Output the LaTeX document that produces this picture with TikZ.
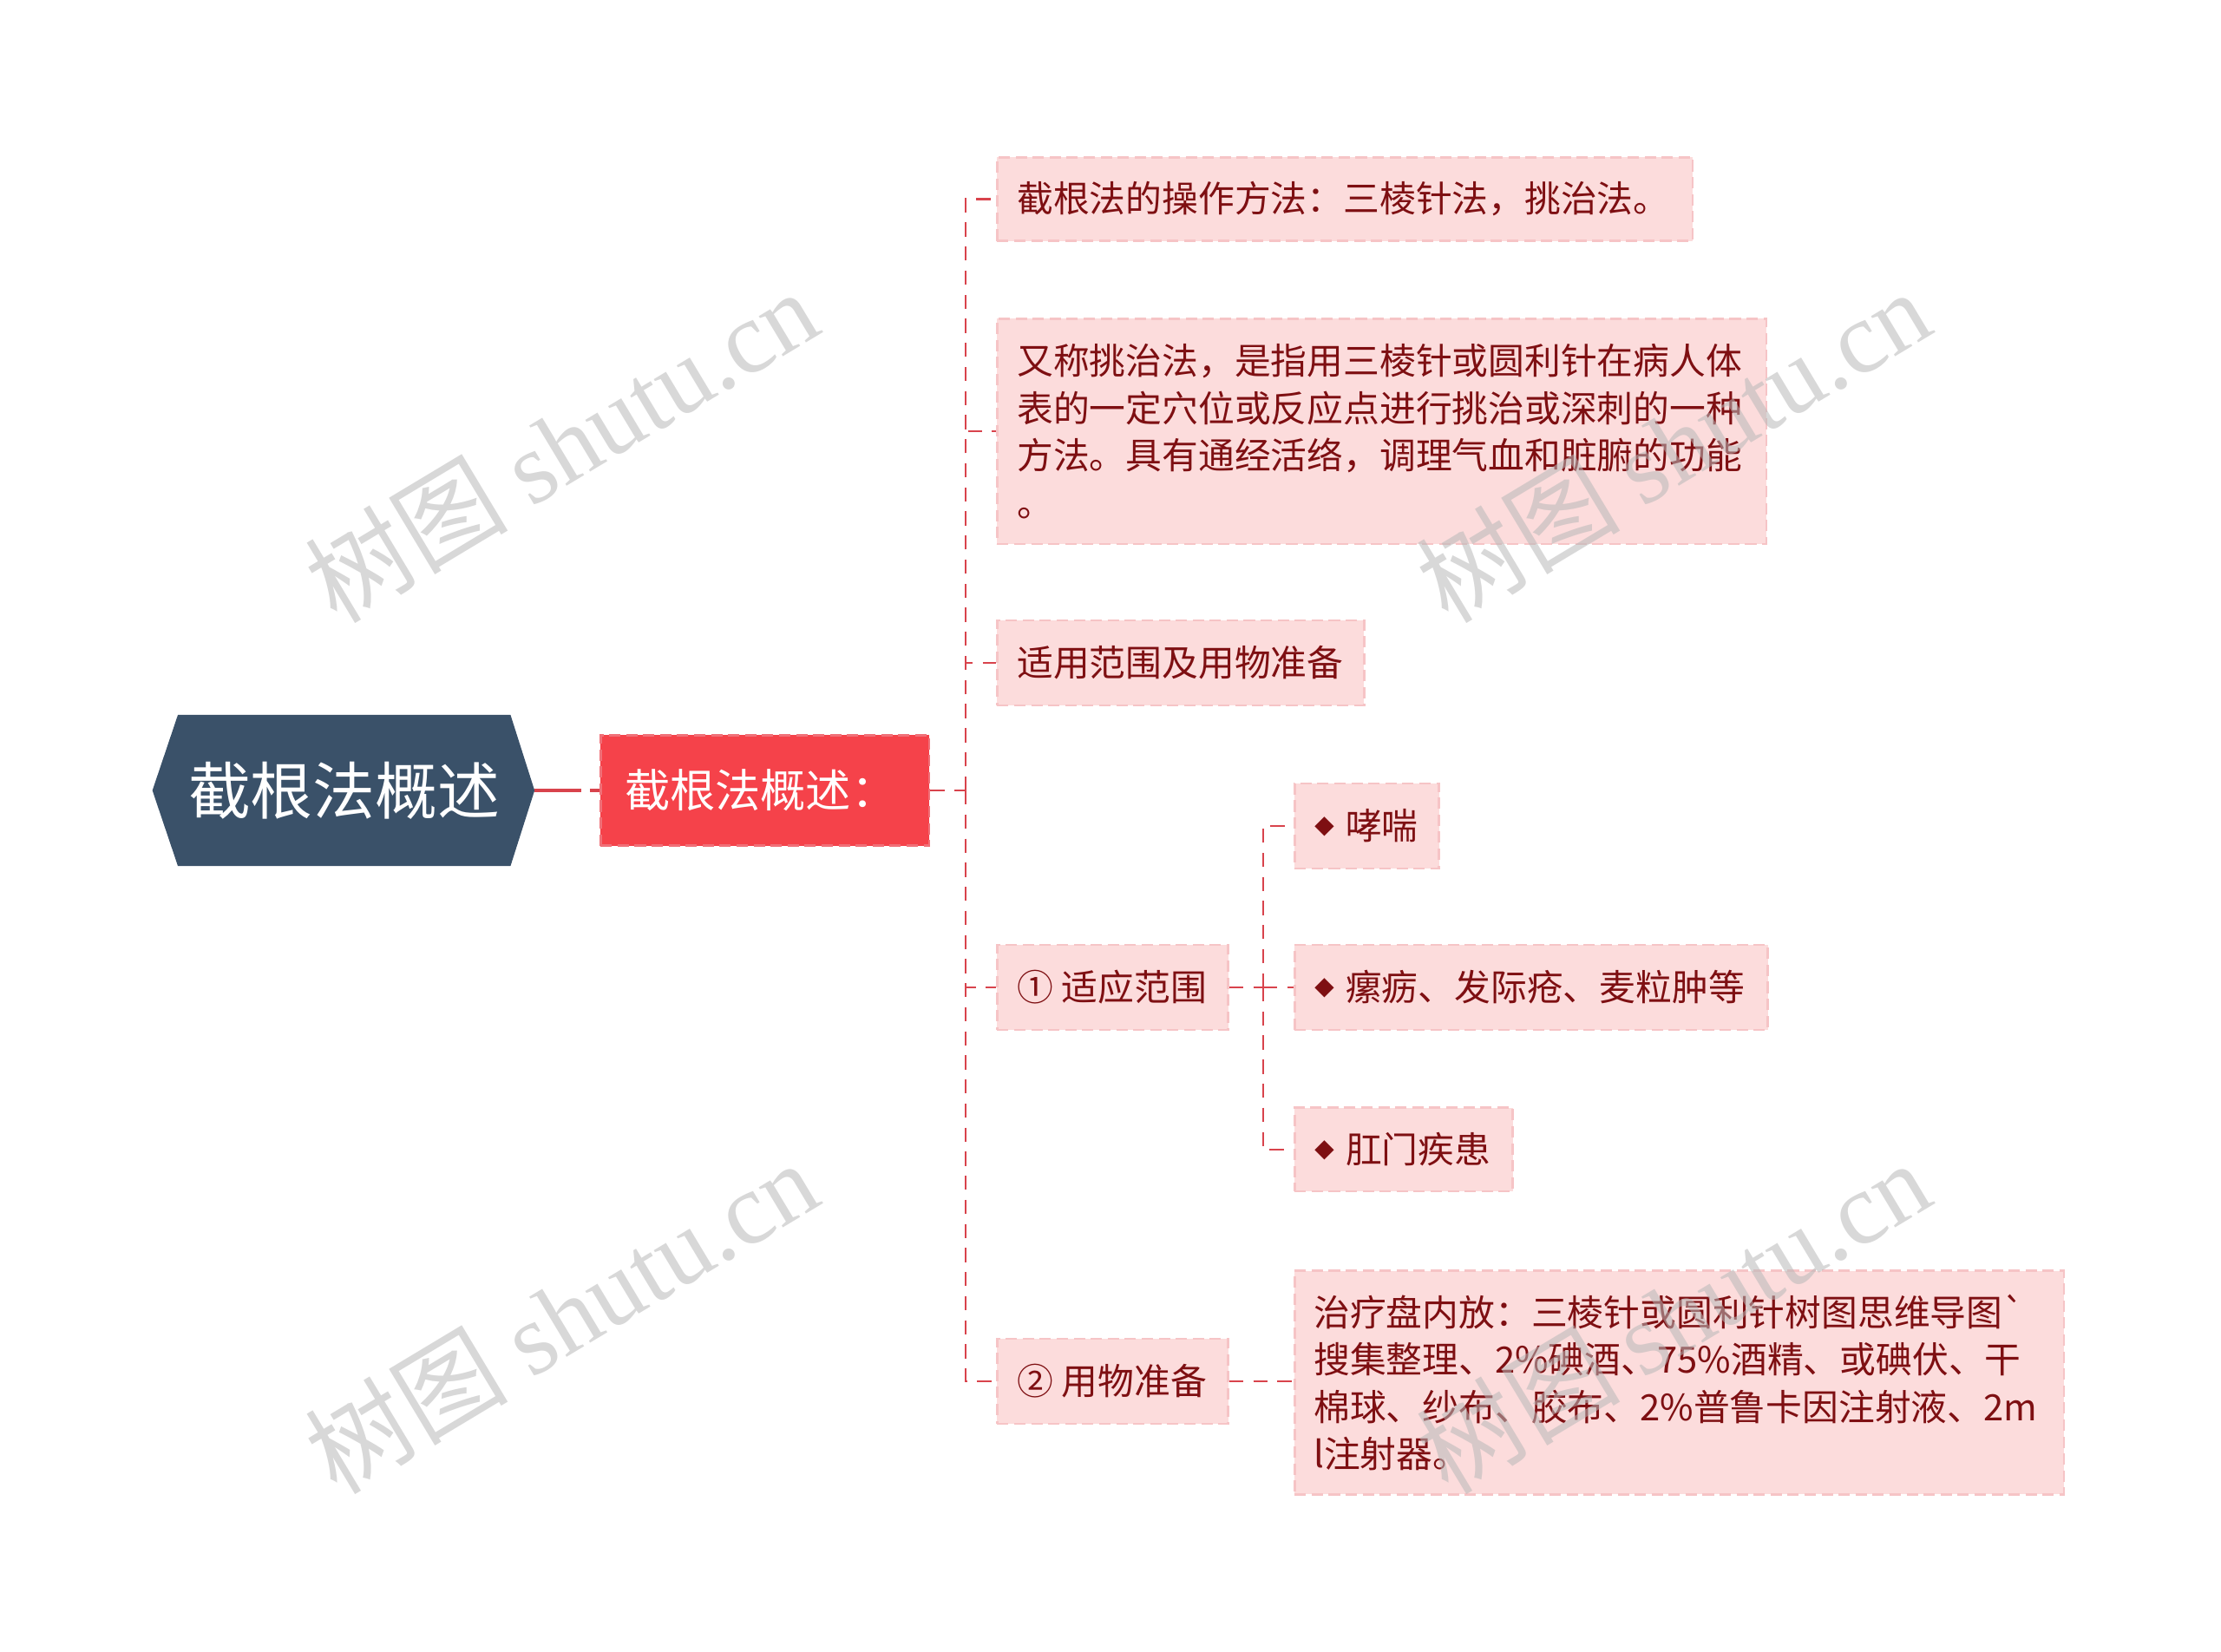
\documentclass[tikz,border=0pt]{standalone}
\usepackage{fontspec}
\setmainfont{Noto Sans CJK SC}[Ligatures=TeXOff]
\newfontfamily\wmlatin{Liberation Serif}
\usetikzlibrary{calc,backgrounds}
\definecolor{hexc}{HTML}{3A5169}
\definecolor{redbox}{HTML}{F5424A}
\definecolor{redborder}{HTML}{F07078}
\definecolor{pinkbox}{HTML}{FCDCDC}
\definecolor{pinkborder}{HTML}{F6C4C6}
\definecolor{txtc}{HTML}{7E0F12}
\definecolor{linec}{HTML}{D8434C}
\definecolor{wmc}{HTML}{B8B8B8}
\newcommand{\dia}{\raisebox{1.8pt}{\fontsize{7pt}{7pt}\selectfont ◆}\hspace{4pt}}
\tikzset{
  conn/.style={draw=linec, line width=0.8pt, dash pattern=on 5pt off 3.5pt},
  pbox/.style={fill=pinkbox, draw=pinkborder, line width=0.8pt, dash pattern=on 4pt off 2pt,
    text=txtc, font=\fontsize{12.8pt}{16.7pt}\selectfont, align=left, inner xsep=7pt, inner ysep=0pt},
  wm/.style={text=wmc, opacity=0.55, rotate=31, font=\fontsize{36pt}{36pt}\selectfont}
}
\begin{document}
\begin{tikzpicture}[x=0.5pt, y=-0.5pt]
\useasboundingbox (0,0) rectangle (1568,1166);
% root
\node[text=white, font=\fontsize{22pt}{22pt}\selectfont, minimum width=117pt, minimum height=53pt, inner sep=0pt] (root) at (243,558) {截根法概述};
\begin{scope}[on background layer]
\fill[hexc] (root.north west) -- (root.north east) -- ($(root.east)+(17,0)$) -- (root.south east) -- (root.south west) -- ($(root.west)+(-18,0)$) -- cycle;
\end{scope}
% level 1
\node[fill=redbox, draw=redborder, line width=0.8pt, dash pattern=on 4pt off 2pt, text=white,
  font=\fontsize{16pt}{16pt}\selectfont, minimum width=116pt, minimum height=39pt,
  text width=99pt, inner xsep=8.5pt, align=left] (l1) at (540,558) {截根法概述：};
\draw[draw=linec, line width=1.5pt, dash pattern=on 16.5pt off 3pt on 4pt off 3pt] ($(root.east)+(17,0)$) -- (l1.west);
% children
\node[pbox, text width=231.5pt, minimum height=29.5pt] (c1) at (949.5,140.5) {截根法的操作方法：三棱针法，挑治法。};
\node[pbox, text width=257.5pt, minimum height=79.5pt] (c2) at (975.5,304.5) {又称挑治法，是指用三棱针或圆利针在病人体\\表的一定穴位或反应点进行挑治或深刺的一种\\方法。具有通经活络，调理气血和脏腑的功能\\。};
\node[pbox, text width=115.5pt, minimum height=30pt] (c3) at (833.5,468) {适用范围及用物准备};
\node[pbox, text width=71.5pt, inner xsep=5pt, minimum height=30pt] (c4) at (785.5,697) {\hspace{2pt}①\hspace{3pt}适应范围};
\node[pbox, text width=71.5pt, inner xsep=5pt, minimum height=30pt] (c5) at (785.5,975) {\hspace{2pt}②\hspace{3pt}用物准备};
% sub of c4
\node[pbox, text width=37pt, minimum height=30pt] (d1) at (965,583) {\dia 哮喘};
\node[pbox, text width=153pt, minimum height=30pt] (d2) at (1081,697) {\dia 瘰疬、发际疮、麦粒肿等};
\node[pbox, text width=63pt, minimum height=29.5pt] (d3) at (991,811.5) {\dia 肛门疾患};
% sub of c5
\node[pbox, text width=258pt, inner xsep=6.75pt, minimum height=79pt] (e1) at (1185.5,976) {治疗盘内放：三棱针或圆利针树图思维导图\symbol{96}\\搜集整理、2\%碘酒、75\%酒精、或碘伏、干\\棉球、纱布、胶布、2\%普鲁卡因注射液、2m\\l注射器。};
% connectors
\coordinate (t) at ($(l1.east)+(25,0)$);
\draw[conn] (l1.east) -- (t);
\foreach \c in {c1,c2,c3,c4,c5} \draw[conn] (t) |- (\c.west);
\coordinate (s) at ($(c4.east)+(24,0)$);
\draw[conn] (c4.east) -- (s);
\foreach \c in {d1,d2,d3} \draw[conn] (s) |- (\c.west);
\draw[conn] (c5.east) -- (c5.east -| e1.west);
% watermarks
\node[wm] (w1) at (396,314) {树图 {\wmlatin shutu.cn}};
\node[wm] (w2) at (1181,314) {树图 {\wmlatin shutu.cn}};
\node[wm] (w3) at (396,929) {树图 {\wmlatin shutu.cn}};
\node[wm] (w4) at (1181,929) {树图 {\wmlatin shutu.cn}};
\end{tikzpicture}
\end{document}
